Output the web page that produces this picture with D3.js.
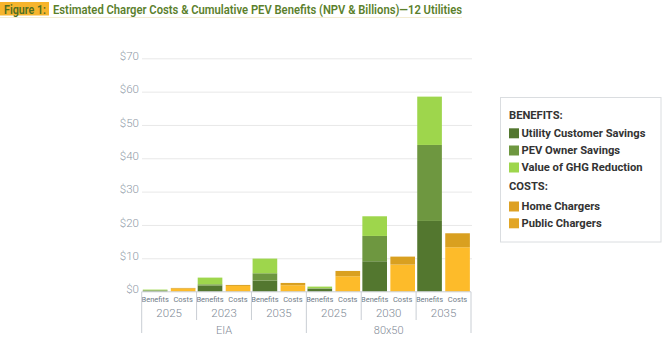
<!DOCTYPE html>
<html><head><meta charset="utf-8">
<script src="https://cdn.jsdelivr.net/npm/d3@7"></script>
<style>
html,body{margin:0;padding:0;background:#fff;}
svg{display:block;font-family:Roboto,"Open Sans",sans-serif;}
</style></head>
<body><svg id="c" width="662" height="337"></svg>
<script>
const years = ["2025","2023","2035","2025","2030","2035"];
const scenarios = ["EIA","EIA","EIA","80x50","80x50","80x50"];
const barTypes = ["Benefits","Costs"];
const utilitySavings = [0.3,1.8,3.3,0.9,9.1,21.2];
const pevSavings = [0.1,0.4,2.2,0.1,7.6,22.8];
const ghgValue = [0.2,2.0,4.4,0.5,5.9,14.5];
const homeChargers = [0.9,1.7,1.9,4.6,8.1,13.3];
const publicChargers = [0.2,0.3,0.7,1.6,2.4,4.2];
const yTicks = [0,10,20,30,40,50,60,70];

const benefitSeries = [
  {name:"Utility Customer Savings", values:utilitySavings, color:"#53772F"},
  {name:"PEV Owner Savings", values:pevSavings, color:"#6E9740"},
  {name:"Value of GHG Reduction", values:ghgValue, color:"#9ED64C"}];
const costSeries = [
  {name:"Home Chargers", values:homeChargers, color:"#FDBB2A"},
  {name:"Public Chargers", values:publicChargers, color:"#D9A020"}];

const svg = d3.select("#c");
const x0 = d3.scaleBand().domain(d3.range(years.length)).range([141.7,471]).padding(0);
const x1 = d3.scaleBand().domain(barTypes).range([0,x0.bandwidth()]).paddingInner(0.12).paddingOuter(0.04);
const y = d3.scaleLinear().domain([0,70]).range([291.6,58.3]);

// title
svg.append("rect").attr("x",0).attr("y",2).attr("width",49).attr("height",13.5).attr("fill","#F6B42C");
svg.append("text").attr("x",4).attr("y",13.6).attr("font-size",13.5).attr("font-weight",600)
  .attr("fill","#4E6E22").attr("textLength",42).attr("lengthAdjust","spacingAndGlyphs").text("Figure 1:");
svg.append("text").attr("x",53).attr("y",13.6).attr("font-size",13.5).attr("font-weight",600)
  .attr("fill","#5B7F2C").attr("textLength",409).attr("lengthAdjust","spacingAndGlyphs")
  .text("Estimated Charger Costs & Cumulative PEV Benefits (NPV & Billions)\u201412 Utilities");
svg.append("line").attr("x1",0).attr("x2",462).attr("y1",17.5).attr("y2",17.5).attr("stroke","#F3ECD2").attr("stroke-width",1);

// grid + y axis
const yAxis = d3.axisLeft(y).tickValues(yTicks).tickFormat(d=>"$"+d).tickSize(-(472-142)).tickPadding(3);
const ga = svg.append("g").attr("transform","translate(142,0)").call(yAxis);
ga.select(".domain").remove();
ga.selectAll(".tick line").attr("stroke","#E8E8E8");
ga.selectAll(".tick text").attr("fill","#8E99A6").attr("font-size",11.5).attr("font-weight",300)
  .attr("font-family","Roboto,sans-serif").attr("dy","0.1em");
ga.selectAll(".tick").filter(d=>d===0).select("line").remove();

// bars
const groups = svg.append("g").selectAll("g").data(d3.range(years.length)).join("g")
  .attr("transform",i=>`translate(${x0(i)},0)`);
function drawStack(sel, series, type){
  sel.each(function(i){
    let base = 0;
    const g = d3.select(this);
    series.forEach(s=>{
      const v = s.values[i];
      g.append("rect").attr("x",x1(type)).attr("width",x1.bandwidth())
        .attr("y",y(base+v)).attr("height",y(base)-y(base+v)).attr("fill",s.color);
      base += v;
    });
  });
}
drawStack(groups, benefitSeries, "Benefits");
drawStack(groups, costSeries, "Costs");

// x axis
svg.append("line").attr("x1",141.7).attr("x2",471).attr("y1",291.8).attr("y2",291.8).attr("stroke","#C9CED4");
const bounds = d3.range(years.length+1);
svg.selectAll(".sep").data(bounds).join("line")
  .attr("x1",i=> i<years.length ? x0(i) : x0(years.length-1)+x0.bandwidth())
  .attr("x2",i=> i<years.length ? x0(i) : x0(years.length-1)+x0.bandwidth())
  .attr("y1",291.8)
  .attr("y2",i=> (i===0||i===years.length|| scenarios[i]!==scenarios[i-1]) ? 333 : 320)
  .attr("stroke","#C9CED4");
groups.selectAll(".bl").data(barTypes).join("text")
  .attr("x",t=>x1(t)+x1.bandwidth()/2).attr("y",302).attr("text-anchor","middle")
  .attr("font-size",7.5).attr("fill","#6E7A86").text(t=>t);
groups.append("text").attr("x",x0.bandwidth()/2).attr("y",317).attr("text-anchor","middle")
  .attr("font-size",11.5).attr("font-weight",300).attr("fill","#7F8A96").text(i=>years[i]);
const scen = Array.from(new Set(scenarios));
scen.forEach(s=>{
  const idx = d3.range(years.length).filter(i=>scenarios[i]===s);
  const cx = (x0(idx[0]) + x0(idx[idx.length-1]) + x0.bandwidth())/2;
  svg.append("text").attr("x",cx).attr("y",334).attr("text-anchor","middle")
    .attr("font-size",11).attr("font-weight",300).attr("fill","#7F8A96").text(s);
});

// legend
const lg = svg.append("g");
lg.append("rect").attr("x",500.5).attr("y",97.5).attr("width",160.5).attr("height",144.5)
  .attr("fill","#fff").attr("stroke","#DADDE0");
const lgItems = [
  {head:"BENEFITS:", y:115},
  {s:benefitSeries[0], y:133.3},
  {s:benefitSeries[1], y:150.5},
  {s:benefitSeries[2], y:167.5},
  {head:"COSTS:", y:186.5},
  {s:costSeries[0], y:206.5},
  {s:costSeries[1], y:223.3}];
const legendColors = {"Home Chargers":"#DDA124","Public Chargers":"#E2A626"};
lgItems.forEach(it=>{
  if(it.head){
    lg.append("text").attr("x",509).attr("y",it.y).attr("dy","0.35em").attr("font-size",11.2)
      .attr("font-weight",700).attr("fill","#333").text(it.head);
  } else {
    lg.append("rect").attr("x",509).attr("y",it.y-5).attr("width",10).attr("height",10)
      .attr("fill",legendColors[it.s.name]||it.s.color);
    lg.append("text").attr("x",521.5).attr("y",it.y).attr("dy","0.35em").attr("font-size",11.2)
      .attr("font-weight",700).attr("fill","#333").text(it.s.name);
  }
});
</script></body></html>
